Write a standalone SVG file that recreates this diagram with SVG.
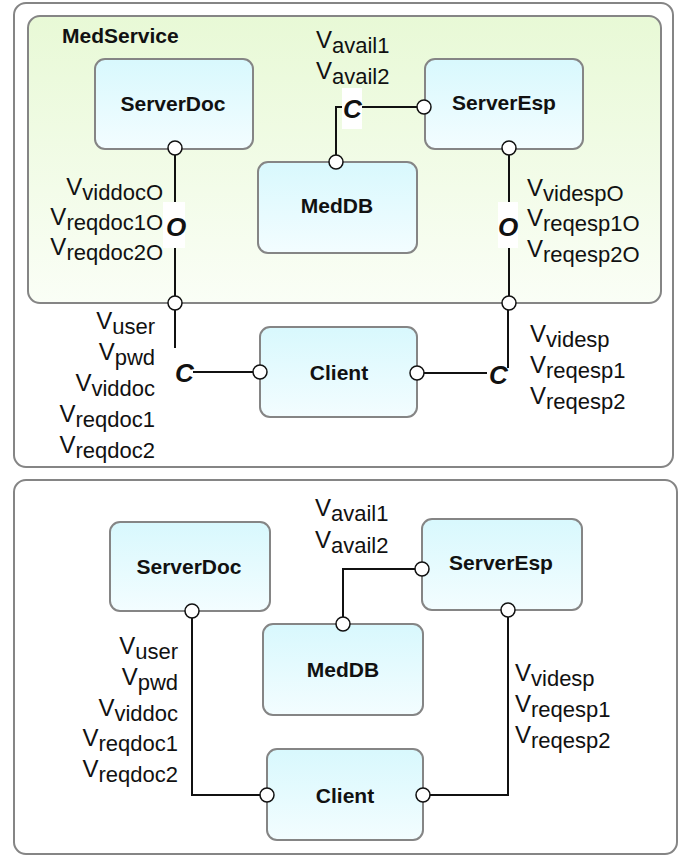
<svg xmlns="http://www.w3.org/2000/svg" width="689" height="857" viewBox="0 0 689 857">
<defs>
<linearGradient id="gGreen" x1="0" y1="0" x2="0" y2="1">
<stop offset="0" stop-color="#e8f9d6"/>
<stop offset="1" stop-color="#fafef6"/>
</linearGradient>
<linearGradient id="gBlue" x1="0" y1="0" x2="0" y2="1">
<stop offset="0" stop-color="#d8f8fd"/>
<stop offset="1" stop-color="#f3fdff"/>
</linearGradient>
</defs>
<style>
.frame{fill:#ffffff;stroke:#858585;stroke-width:2}
.comp{fill:url(#gGreen);stroke:#858585;stroke-width:2}
.node{fill:url(#gBlue);stroke:#858585;stroke-width:2}
.lbl{font-family:"Liberation Sans",Arial,sans-serif;font-weight:bold;font-size:21px;fill:#111;text-anchor:middle}
.title{font-family:"Liberation Sans",Arial,sans-serif;font-weight:bold;font-size:21px;fill:#111}
.v{font-family:"Liberation Sans",Arial,sans-serif;font-size:24px;fill:#111}
.sub{font-size:22px}
.op{font-family:"Liberation Sans",Arial,sans-serif;font-weight:bold;font-style:italic;font-size:26px;fill:#111}
.wire{fill:none;stroke:#111;stroke-width:2}
.port{fill:#ffffff;stroke:#111;stroke-width:1.5}
.mask{fill:#ffffff;stroke:none}
.end{text-anchor:end}
</style>

<!-- Upper panel -->
<rect class="frame" x="14" y="3" width="659" height="464" rx="12"/>
<g id="MedService">
<rect class="comp" x="28" y="16" width="633" height="287" rx="12"/>
<text class="title" x="62" y="43">MedService</text>
</g>
<g id="ServerDoc1">
<rect class="node" x="95" y="59" width="158" height="90" rx="10"/>
<text class="lbl" x="173" y="111">ServerDoc</text>
</g>
<g id="ServerEsp1">
<rect class="node" x="425" y="59" width="158" height="90" rx="10"/>
<text class="lbl" x="504" y="110">ServerEsp</text>
</g>
<g id="MedDB1">
<rect class="node" x="258" y="162" width="159" height="91" rx="10"/>
<text class="lbl" x="337" y="213">MedDB</text>
</g>
<g id="Client1">
<rect class="node" x="260" y="327" width="157" height="90" rx="10"/>
<text class="lbl" x="339" y="380">Client</text>
</g>

<g id="connectors1">
<path class="wire" d="M175,148 V303"/>
<path class="wire" d="M509,148 V303"/>
<path class="wire" d="M336,162 V107 H424"/>
<path class="wire" d="M175,303 V348"/>
<path class="wire" d="M193,372 H260"/>
<path class="wire" d="M417,373 H487"/>
<path class="wire" d="M508,303 V368"/>
<rect class="mask" x="163" y="202" width="22" height="46"/>
<rect class="mask" x="498" y="202" width="20" height="46"/>
<rect class="mask" x="342" y="88" width="20" height="41"/>
<text class="op" x="176" y="236" text-anchor="middle">O</text>
<text class="op" x="508" y="236" text-anchor="middle">O</text>
<text class="op" x="343" y="118">C</text>
<text class="op" x="175" y="382">C</text>
<text class="op" x="489" y="384">C</text>
<circle class="port" cx="175" cy="148" r="7"/>
<circle class="port" cx="509" cy="148" r="7"/>
<circle class="port" cx="424" cy="107" r="7"/>
<circle class="port" cx="336" cy="162" r="7"/>
<circle class="port" cx="175" cy="303" r="7"/>
<circle class="port" cx="509" cy="303" r="7"/>
<circle class="port" cx="260" cy="372" r="7"/>
<circle class="port" cx="417" cy="373" r="7"/>
</g>

<g id="labels1">
<text class="v" x="316" y="48">V<tspan class="sub" dy="5">avail1</tspan></text>
<text class="v" x="316" y="79">V<tspan class="sub" dy="5">avail2</tspan></text>
<text class="v end" x="163" y="195">V<tspan class="sub" dy="5">viddocO</tspan></text>
<text class="v end" x="163" y="225">V<tspan class="sub" dy="5">reqdoc1O</tspan></text>
<text class="v end" x="163" y="255">V<tspan class="sub" dy="5">reqdoc2O</tspan></text>
<text class="v" x="527" y="196">V<tspan class="sub" dy="5">videspO</tspan></text>
<text class="v" x="527" y="226">V<tspan class="sub" dy="5">reqesp1O</tspan></text>
<text class="v" x="527" y="257">V<tspan class="sub" dy="5">reqesp2O</tspan></text>
<text class="v end" x="155" y="329">V<tspan class="sub" dy="5">user</tspan></text>
<text class="v end" x="155" y="360">V<tspan class="sub" dy="5">pwd</tspan></text>
<text class="v end" x="155" y="391">V<tspan class="sub" dy="5">viddoc</tspan></text>
<text class="v end" x="155" y="422">V<tspan class="sub" dy="5">reqdoc1</tspan></text>
<text class="v end" x="155" y="453">V<tspan class="sub" dy="5">reqdoc2</tspan></text>
<text class="v" x="530" y="342">V<tspan class="sub" dy="5">videsp</tspan></text>
<text class="v" x="530" y="373">V<tspan class="sub" dy="5">reqesp1</tspan></text>
<text class="v" x="530" y="404">V<tspan class="sub" dy="5">reqesp2</tspan></text>
</g>

<!-- Lower panel -->
<rect class="frame" x="14" y="480" width="663" height="374" rx="12"/>
<g id="ServerDoc2">
<rect class="node" x="110" y="522" width="160" height="89" rx="10"/>
<text class="lbl" x="189" y="574">ServerDoc</text>
</g>
<g id="ServerEsp2">
<rect class="node" x="422" y="519" width="160" height="91" rx="10"/>
<text class="lbl" x="501" y="570">ServerEsp</text>
</g>
<g id="MedDB2">
<rect class="node" x="263" y="624" width="160" height="91" rx="10"/>
<text class="lbl" x="343" y="677">MedDB</text>
</g>
<g id="Client2">
<rect class="node" x="267" y="749" width="156" height="91" rx="10"/>
<text class="lbl" x="345" y="803">Client</text>
</g>

<g id="connectors2">
<path class="wire" d="M192,611 V795 H267"/>
<path class="wire" d="M343,624 V569 H422"/>
<path class="wire" d="M508,610 V795 H423"/>
<circle class="port" cx="192" cy="611" r="7"/>
<circle class="port" cx="343" cy="624" r="7"/>
<circle class="port" cx="422" cy="569" r="7"/>
<circle class="port" cx="508" cy="610" r="7"/>
<circle class="port" cx="267" cy="795" r="7"/>
<circle class="port" cx="423" cy="795" r="7"/>
</g>

<g id="labels2">
<text class="v" x="315" y="516">V<tspan class="sub" dy="5">avail1</tspan></text>
<text class="v" x="315" y="548">V<tspan class="sub" dy="5">avail2</tspan></text>
<text class="v end" x="178" y="654">V<tspan class="sub" dy="5">user</tspan></text>
<text class="v end" x="178" y="685">V<tspan class="sub" dy="5">pwd</tspan></text>
<text class="v end" x="178" y="716">V<tspan class="sub" dy="5">viddoc</tspan></text>
<text class="v end" x="178" y="746">V<tspan class="sub" dy="5">reqdoc1</tspan></text>
<text class="v end" x="178" y="777">V<tspan class="sub" dy="5">reqdoc2</tspan></text>
<text class="v" x="515" y="681">V<tspan class="sub" dy="5">videsp</tspan></text>
<text class="v" x="515" y="712">V<tspan class="sub" dy="5">reqesp1</tspan></text>
<text class="v" x="515" y="743">V<tspan class="sub" dy="5">reqesp2</tspan></text>
</g>
</svg>
